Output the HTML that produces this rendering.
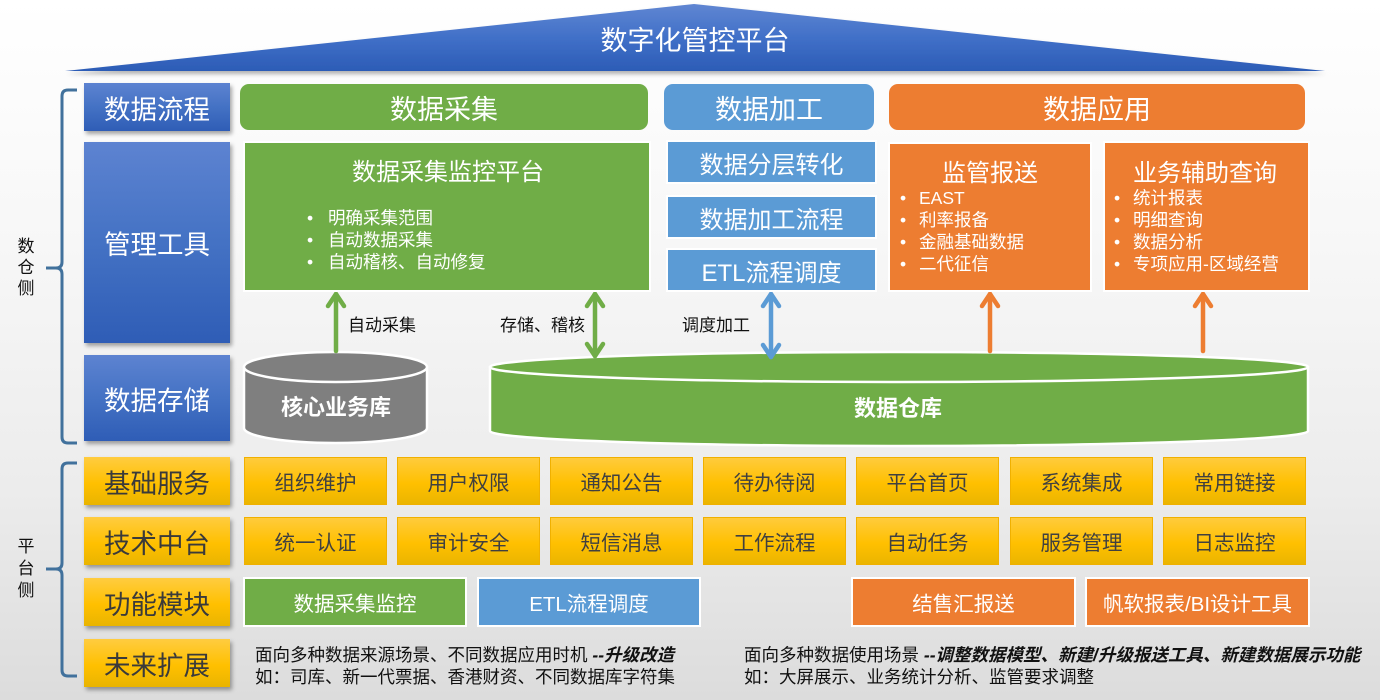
<!DOCTYPE html>
<html><head><meta charset="utf-8">
<style>
*{margin:0;padding:0;box-sizing:border-box}
html,body{width:1380px;height:700px;overflow:hidden}
body{position:relative;font-family:"Liberation Sans","Noto Sans CJK SC",sans-serif;
background:linear-gradient(to bottom,#ffffff 0%,#f7f7f7 35%,#ececec 70%,#dcdcdc 100%);}
.a{position:absolute}
.c{position:absolute;display:flex;align-items:center;justify-content:center;white-space:nowrap}
.lb{color:#fff;font-size:26.5px;background:linear-gradient(to bottom,#5d83d1 0%,#4472c4 50%,#2f5db6 100%);box-shadow:2px 3px 4px rgba(0,0,0,0.35)}
.ly{color:#3a3a3a;font-size:26.5px;background:linear-gradient(to bottom,#ffcc40 0%,#ffc000 55%,#e9b400 100%);box-shadow:2px 3px 4px rgba(0,0,0,0.35)}
.hd{color:#fff;font-size:27px;border-radius:9px}
.yb{color:#404040;font-size:20.5px;background:linear-gradient(to bottom,#ffcb3c 0%,#ffc000 55%,#ebb500 100%);border:1px solid #f0b000;width:143px;height:48px}
.wb{border:2.5px solid #fff}
.g{background:#70ad47}.b{background:#5b9bd5}.o{background:#ed7d31}
.t{position:absolute;white-space:nowrap;color:#fff}
.bl{font-size:17.5px;line-height:22px}
.lab{position:absolute;white-space:nowrap;font-size:17px;color:#111}
</style></head><body>

<svg class="a" style="left:0;top:0" width="1380" height="700" viewBox="0 0 1380 700">
<defs>
<linearGradient id="tri" x1="0" y1="0" x2="0" y2="1">
<stop offset="0" stop-color="#6086d2"/><stop offset="0.5" stop-color="#4170c8"/><stop offset="1" stop-color="#2c5cb6"/>
</linearGradient>
<filter id="sh" x="-5%" y="-20%" width="110%" height="150%"><feDropShadow dx="1" dy="3" stdDeviation="2" flood-color="#000" flood-opacity="0.3"/></filter>
</defs>
<polygon points="65,71 694,4 1325,71" fill="url(#tri)" filter="url(#sh)"/>
<!-- brackets -->
<path d="M77,90 L68,90 Q62,90 62,96 L62,262 Q62,268 56,268 L46,268 L56,268 Q62,268 62,274 L62,437 Q62,443 68,443 L77,443" fill="none" stroke="#41719c" stroke-width="3"/>
<path d="M77,463 L68,463 Q62,463 62,469 L62,563 Q62,569 56,569 L46,569 L56,569 Q62,569 62,575 L62,670 Q62,676 68,676 L77,676" fill="none" stroke="#41719c" stroke-width="3"/>
<!-- gray cylinder -->
<path d="M244,367 L244,428 A91.5,15 0 0 0 427,428 L427,367 Z" fill="#7f7f7f" stroke="#fff" stroke-width="2.5"/>
<ellipse cx="335.5" cy="367" rx="91.5" ry="15" fill="#7f7f7f" stroke="#fff" stroke-width="2.5"/>
<!-- green cylinder -->
<path d="M490,367 L490,431 A409,15 0 0 0 1308,431 L1308,367 Z" fill="#70ad47" stroke="#fff" stroke-width="2.5"/>
<ellipse cx="899" cy="367" rx="409" ry="15" fill="#70ad47" stroke="#fff" stroke-width="2.5"/>
<!-- arrows -->
<g fill="none" stroke-width="4.5" stroke-linecap="round" stroke-linejoin="round">
<g stroke="#70ad47">
<line x1="336" y1="351" x2="336" y2="294"/><polyline points="328,306 336,294 344,306"/>
<line x1="595" y1="294" x2="595" y2="356"/><polyline points="587,306 595,294 603,306"/><polyline points="587,344 595,356 603,344"/>
</g>
<g stroke="#5b9bd5">
<line x1="771" y1="294" x2="771" y2="357"/><polyline points="763,306 771,294 779,306"/><polyline points="763,345 771,357 779,345"/>
</g>
<g stroke="#ed7d31">
<line x1="990" y1="351" x2="990" y2="294"/><polyline points="982,306 990,294 998,306"/>
<line x1="1203" y1="351" x2="1203" y2="294"/><polyline points="1195,306 1203,294 1211,306"/>
</g>
</g>
</svg>

<div class="c" style="left:560px;top:20px;width:270px;height:36px;color:#fff;font-size:27px">数字化管控平台</div>

<!-- side labels -->
<div class="a" style="left:16px;top:236px;width:20px;font-size:17px;line-height:21px;color:#111;text-align:center">数<br>仓<br>侧</div>
<div class="a" style="left:16px;top:536px;width:20px;font-size:17px;line-height:22px;color:#111;text-align:center">平<br>台<br>侧</div>

<!-- left column -->
<div class="c lb" style="left:84px;top:83px;width:146px;height:48px">数据流程</div>
<div class="c lb" style="left:84px;top:142px;width:146px;height:201px">管理工具</div>
<div class="c lb" style="left:84px;top:355px;width:146px;height:86px">数据存储</div>
<div class="c ly" style="left:84px;top:457px;width:146px;height:48px">基础服务</div>
<div class="c ly" style="left:84px;top:517px;width:146px;height:48px">技术中台</div>
<div class="c ly" style="left:84px;top:578px;width:146px;height:48px">功能模块</div>
<div class="c ly" style="left:84px;top:639px;width:146px;height:48px">未来扩展</div>

<!-- headers -->
<div class="c hd g" style="left:240px;top:84px;width:408px;height:46px">数据采集</div>
<div class="c hd b" style="left:664px;top:84px;width:210px;height:46px">数据加工</div>
<div class="c hd o" style="left:889px;top:84px;width:416px;height:46px">数据应用</div>

<!-- green platform box -->
<div class="a g wb" style="left:243px;top:141px;width:408px;height:151px"></div>
<div class="t" style="left:352px;top:159px;font-size:24px;line-height:28px">数据采集监控平台</div>
<div class="t bl" style="left:307px;top:207px">•</div>
<div class="t bl" style="left:307px;top:229px">•</div>
<div class="t bl" style="left:307px;top:251px">•</div>
<div class="t bl" style="left:328px;top:207px">明确采集范围</div>
<div class="t bl" style="left:328px;top:229px">自动数据采集</div>
<div class="t bl" style="left:328px;top:251px">自动稽核、自动修复</div>

<!-- blue boxes -->
<div class="c b wb" style="left:666px;top:140px;width:211px;height:44px;color:#fff;font-size:24px">数据分层转化</div>
<div class="c b wb" style="left:666px;top:195px;width:211px;height:44px;color:#fff;font-size:24px">数据加工流程</div>
<div class="c b wb" style="left:666px;top:248px;width:211px;height:44px;color:#fff;font-size:24px">ETL流程调度</div>

<!-- orange boxes -->
<div class="a o wb" style="left:888px;top:142px;width:204px;height:150px"></div>
<div class="t" style="left:942px;top:160px;font-size:24px;line-height:28px">监管报送</div>
<div class="t bl" style="left:900px;top:187px">•</div>
<div class="t bl" style="left:900px;top:209px">•</div>
<div class="t bl" style="left:900px;top:231px">•</div>
<div class="t bl" style="left:900px;top:253px">•</div>
<div class="t bl" style="left:919px;top:187px">EAST</div>
<div class="t bl" style="left:919px;top:209px">利率报备</div>
<div class="t bl" style="left:919px;top:231px">金融基础数据</div>
<div class="t bl" style="left:919px;top:253px">二代征信</div>

<div class="a o wb" style="left:1103px;top:141px;width:207px;height:151px"></div>
<div class="t" style="left:1133px;top:160px;font-size:24px;line-height:28px">业务辅助查询</div>
<div class="t bl" style="left:1114px;top:187px">•</div>
<div class="t bl" style="left:1114px;top:209px">•</div>
<div class="t bl" style="left:1114px;top:231px">•</div>
<div class="t bl" style="left:1114px;top:253px">•</div>
<div class="t bl" style="left:1133px;top:187px">统计报表</div>
<div class="t bl" style="left:1133px;top:209px">明细查询</div>
<div class="t bl" style="left:1133px;top:231px">数据分析</div>
<div class="t bl" style="left:1133px;top:253px">专项应用-区域经营</div>

<!-- arrow labels -->
<div class="lab" style="left:348px;top:311px">自动采集</div>
<div class="lab" style="left:500px;top:311px">存储、稽核</div>
<div class="lab" style="left:682px;top:311px">调度加工</div>

<!-- cylinder labels -->
<div class="c" style="left:244px;top:391px;width:184px;height:30px;color:#fff;font-size:22px;font-weight:bold">核心业务库</div>
<div class="c" style="left:800px;top:392px;width:196px;height:30px;color:#fff;font-size:22px;font-weight:bold">数据仓库</div>

<!-- yellow row 1 -->
<div class="c yb" style="left:244px;top:457px">组织维护</div>
<div class="c yb" style="left:397px;top:457px">用户权限</div>
<div class="c yb" style="left:550px;top:457px">通知公告</div>
<div class="c yb" style="left:703px;top:457px">待办待阅</div>
<div class="c yb" style="left:856px;top:457px">平台首页</div>
<div class="c yb" style="left:1010px;top:457px">系统集成</div>
<div class="c yb" style="left:1163px;top:457px">常用链接</div>
<!-- yellow row 2 -->
<div class="c yb" style="left:244px;top:517px">统一认证</div>
<div class="c yb" style="left:397px;top:517px">审计安全</div>
<div class="c yb" style="left:550px;top:517px">短信消息</div>
<div class="c yb" style="left:703px;top:517px">工作流程</div>
<div class="c yb" style="left:856px;top:517px">自动任务</div>
<div class="c yb" style="left:1010px;top:517px">服务管理</div>
<div class="c yb" style="left:1163px;top:517px">日志监控</div>

<!-- row 3 -->
<div class="c g wb" style="left:243px;top:577px;width:224px;height:50px;color:#fff;font-size:20.5px">数据采集监控</div>
<div class="c b wb" style="left:477px;top:577px;width:224px;height:50px;color:#fff;font-size:20.5px">ETL流程调度</div>
<div class="c o wb" style="left:851px;top:577px;width:225px;height:50px;color:#fff;font-size:20.5px">结售汇报送</div>
<div class="c o wb" style="left:1085px;top:577px;width:225px;height:50px;color:#fff;font-size:20.5px">帆软报表/BI设计工具</div>

<!-- row 4 text -->
<div class="lab" style="left:255px;top:644px;font-size:17.5px;line-height:22px">面向多种数据来源场景、不同数据应用时机 <b><i>--升级改造</i></b><br>如：司库、新一代票据、香港财资、不同数据库字符集</div>
<div class="lab" style="left:744px;top:644px;font-size:17.5px;line-height:22px">面向多种数据使用场景 <b><i>--调整数据模型、新建/升级报送工具、新建数据展示功能</i></b><br>如：大屏展示、业务统计分析、监管要求调整</div>

</body></html>
